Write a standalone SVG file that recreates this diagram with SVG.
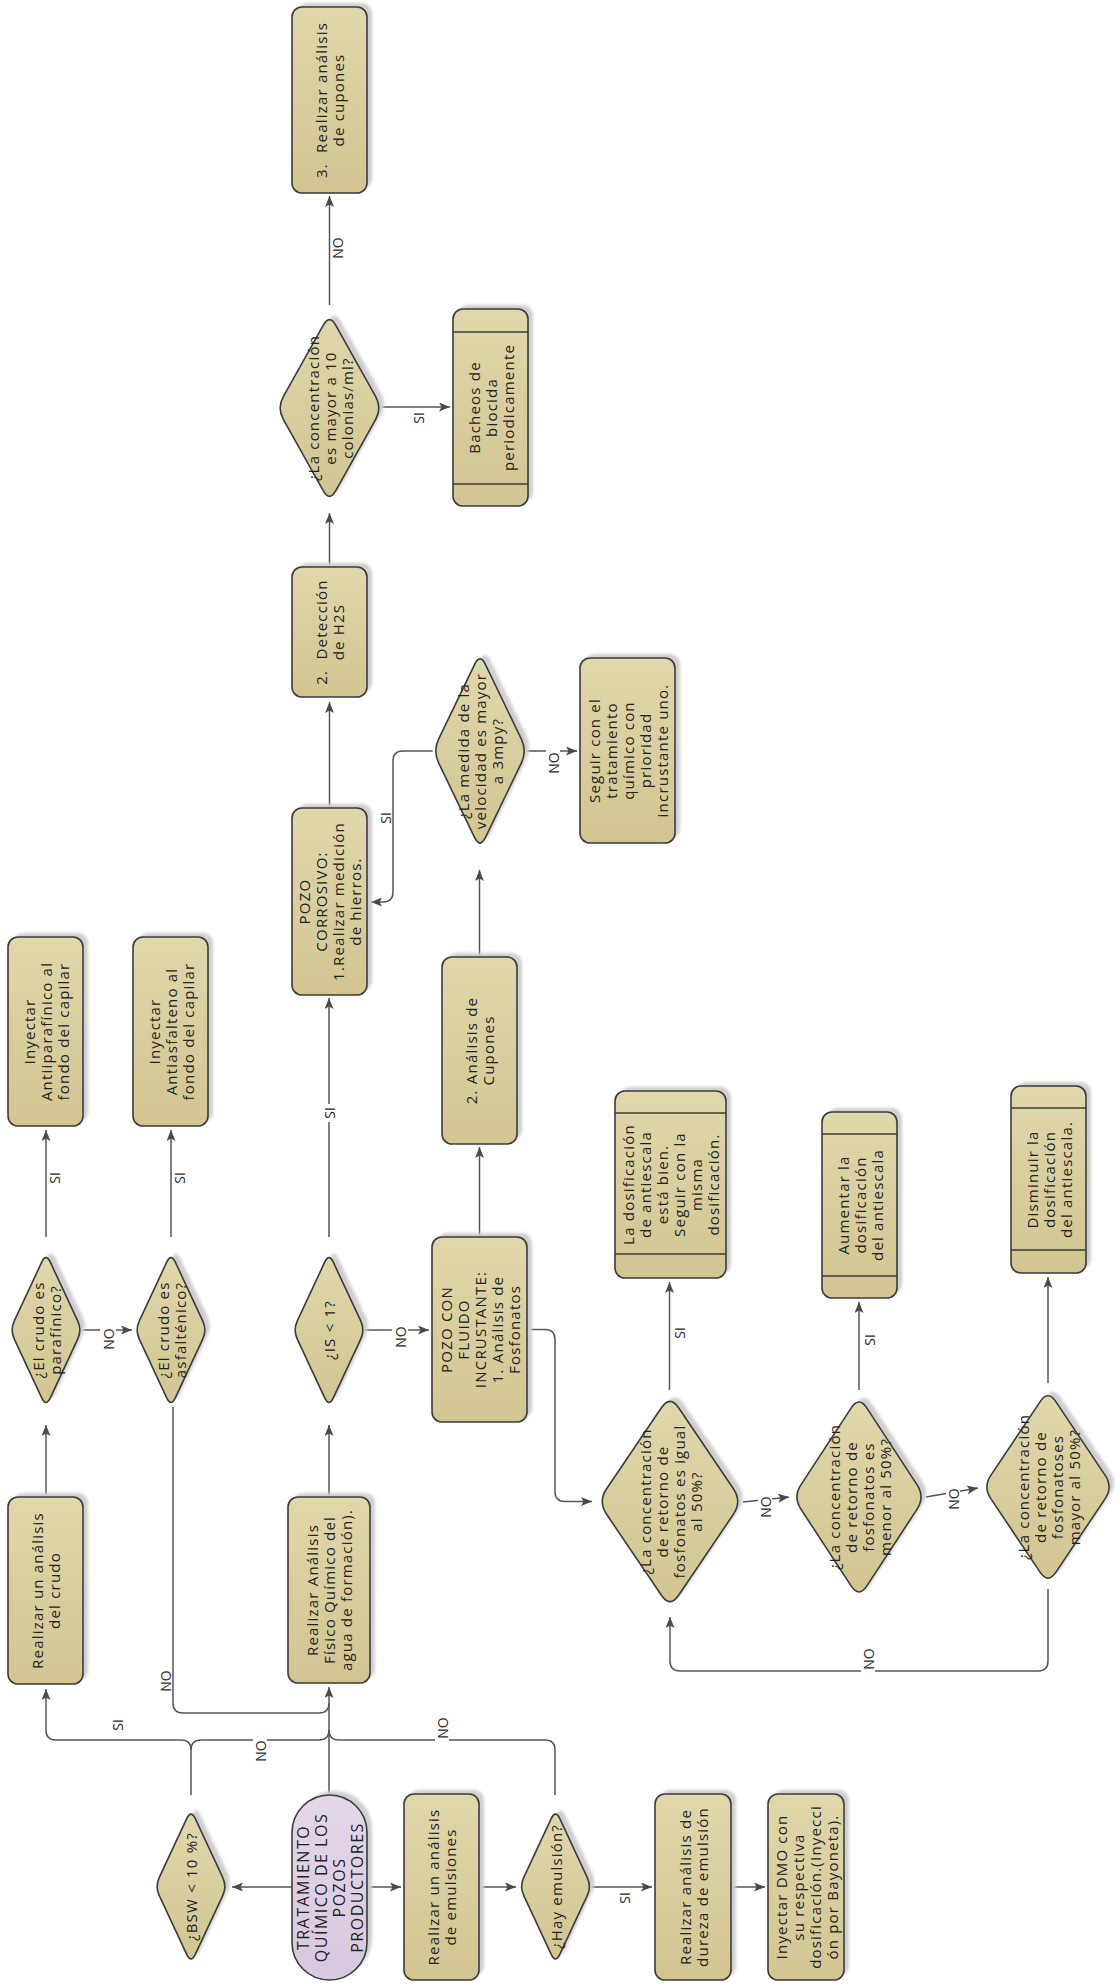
<svg xmlns="http://www.w3.org/2000/svg" xmlns:xlink="http://www.w3.org/1999/xlink" width="1115" height="1988" viewBox="0 0 1115 1988">
<defs>
<linearGradient id="g" x1="0" y1="0" x2="0" y2="1">
<stop offset="0" stop-color="#e0d7ab"/>
<stop offset="1" stop-color="#d2c592"/>
</linearGradient>
<linearGradient id="gp" x1="0" y1="0" x2="0" y2="1">
<stop offset="0" stop-color="#e4d7e9"/>
<stop offset="1" stop-color="#d8c8df"/>
</linearGradient>
<filter id="blur" x="-20%" y="-20%" width="140%" height="140%">
<feGaussianBlur stdDeviation="1.5"/>
</filter>
<marker id="ar" viewBox="0 0 11 9" refX="11" refY="4.5" markerWidth="11" markerHeight="9" markerUnits="userSpaceOnUse" orient="auto">
<path d="M0,0 L11,4.5 L0,9 L2.5,4.5 Z" fill="#4a4a4a"/>
</marker>
<path id="dS" d="M4.3,-67.8 L31.7,-9.2 Q36,0 31.7,9.2 L4.3,67.8 Q0,77 -4.3,67.8 L-31.7,9.2 Q-36,0 -31.7,-9.2 L-4.3,-67.8 Q0,-77 4.3,-67.8 Z"/>
<path id="dVel" d="M5.6,-86.2 L41.4,-11.8 Q47,0 41.4,11.8 L5.6,86.2 Q0,98 -5.6,86.2 L-41.4,11.8 Q-47,0 -41.4,-11.8 L-5.6,-86.2 Q0,-98 5.6,-86.2 Z"/>
<path id="dCol" d="M6.3,-82.7 L46.2,-11.3 Q52.5,0 46.2,11.3 L6.3,82.7 Q0,94 -6.3,82.7 L-46.2,11.3 Q-52.5,0 -46.2,-11.3 L-6.3,-82.7 Q0,-94 6.3,-82.7 Z"/>
<path id="dD1" d="M8.6,-93.7 L63.4,-12.8 Q72,0 63.4,12.8 L8.6,93.7 Q0,106.5 -8.6,93.7 L-63.4,12.8 Q-72,0 -63.4,-12.8 L-8.6,-93.7 Q0,-106.5 8.6,-93.7 Z"/>
<path id="dD2" d="M7.9,-88.9 L58.1,-12.1 Q66,0 58.1,12.1 L7.9,88.9 Q0,101 -7.9,88.9 L-58.1,12.1 Q-66,0 -58.1,-12.1 L-7.9,-88.9 Q0,-101 7.9,-88.9 Z"/>
<path id="dD3" d="M7.8,-85.4 L57.2,-11.6 Q65,0 57.2,11.6 L7.8,85.4 Q0,97 -7.8,85.4 L-57.2,11.6 Q-65,0 -57.2,-11.6 L-7.8,-85.4 Q0,-97 7.8,-85.4 Z"/>
</defs>
<style>
.nd { fill: url(#g); stroke: #3b3b3b; stroke-width: 1.6; }
.pl { fill: url(#gp); stroke: #3b3b3b; stroke-width: 1.6; }
.sh { fill: #cfcfcf; stroke: none; filter: url(#blur); }
.in { stroke: #3b3b3b; stroke-width: 1.6; }
.t { font-family: "Open Sans", "DejaVu Sans", sans-serif; font-size: 15px; fill: #222222; letter-spacing: 1.2px; text-anchor: middle; dominant-baseline: central; }
.tp { font-size: 16px; letter-spacing: 1.5px; }
.c { fill: none; stroke: #555555; stroke-width: 1.5; }
.a { marker-end: url(#ar); }
.lb { font-family: "Open Sans", "DejaVu Sans", sans-serif; font-size: 14px; fill: #2a2a2a; text-anchor: middle; dominant-baseline: central; }
.bg { fill: #ffffff; }
</style>
<rect width="1115" height="1988" fill="#ffffff"/>

<g id="connectors">
<path class="c a" d="M329,1795 L329,1687"/>
<path class="c a" d="M191,1795 L191,1750 Q191,1740 181,1740 L56,1740 Q46,1740 46,1730 L46,1689"/>
<path class="c" d="M191,1750 Q191,1740 201,1740 L319,1740 Q329,1740 329,1730"/>
<path class="c" d="M555,1795 L555,1750 Q555,1740 545,1740 L339,1740 Q329,1740 329,1730"/>
<path class="c" d="M173,1407 L173,1703 Q173,1713 183,1713 L319,1713 Q329,1713 329,1703"/>
<path class="c a" d="M292,1887 L232,1887"/>
<path class="c a" d="M367,1887 L401,1887"/>
<path class="c a" d="M479,1887 L516,1887"/>
<path class="c a" d="M591,1887 L652,1887"/>
<path class="c a" d="M731,1887 L765,1887"/>
<path class="c a" d="M46,1497 L46,1425"/>
<path class="c a" d="M329,1497 L329,1425"/>
<path class="c a" d="M46,1237 L46,1130"/>
<path class="c a" d="M171,1237 L171,1130"/>
<path class="c a" d="M82,1330 L132,1330"/>
<path class="c a" d="M329,1237 L329,998"/>
<path class="c a" d="M365,1330 L429,1330"/>
<path class="c a" d="M479.5,1237 L479.5,1147"/>
<path class="c a" d="M527,1329.5 L545,1329.5 Q555,1329.5 555,1339.5 L555,1491.5 Q555,1501.5 565,1501.5 L592,1501.5"/>
<path class="c a" d="M479.5,957 L479.5,870"/>
<path class="c a" d="M432.7,751 L403,751 Q393,751 393,761 L393,892 Q393,902 383,902 L371,902"/>
<path class="c a" d="M527,751 L577,751"/>
<path class="c a" d="M329.5,808 L329.5,702"/>
<path class="c a" d="M329.5,567 L329.5,513"/>
<path class="c a" d="M329.5,305 L329.5,196"/>
<path class="c a" d="M382,407 L450,407"/>
<path class="c a" d="M669.5,1390 L669.5,1282"/>
<path class="c a" d="M859,1390 L859,1302"/>
<path class="c a" d="M1048,1383 L1048,1277"/>
<path class="c a" d="M743,1502 L789,1497"/>
<path class="c a" d="M926,1497 L978,1488"/>
<path class="c a" d="M1048,1589 L1048,1661 Q1048,1671 1038,1671 L680,1671 Q670,1671 670,1661 L670,1617"/>

<rect class="bg" x="100" y="1325" width="16" height="28"/>
<text class="lb" transform="translate(108,1339) rotate(-90)">NO</text>
<rect class="bg" x="392" y="1324" width="16" height="28"/>
<text class="lb" transform="translate(400,1337) rotate(-90)">NO</text>
<rect class="bg" x="322" y="1104" width="14" height="18"/>
<text class="lb" transform="translate(329,1113) rotate(-90)">SI</text>
<rect class="bg" x="546" y="748" width="14" height="28"/>
<text class="lb" transform="translate(553,763) rotate(-90)">NO</text>
<rect class="bg" x="758" y="1494" width="14" height="27"/>
<text class="lb" transform="translate(765,1507) rotate(-90)">NO</text>
<rect class="bg" x="946" y="1486" width="14" height="26"/>
<text class="lb" transform="translate(953,1499) rotate(-90)">NO</text>
<rect class="bg" x="861" y="1645" width="14" height="30"/>
<text class="lb" transform="translate(868,1659) rotate(-90)">NO</text>
<rect class="bg" x="253" y="1737" width="14" height="28"/>
<text class="lb" transform="translate(260,1751) rotate(-90)">NO</text>
<rect class="bg" x="435" y="1714" width="14" height="29"/>
<text class="lb" transform="translate(442,1728) rotate(-90)">NO</text>
<text class="lb" transform="translate(117,1725) rotate(-90)">SI</text>
<text class="lb" transform="translate(165,1681) rotate(-90)">NO</text>
<text class="lb" transform="translate(54,1178) rotate(-90)">SI</text>
<text class="lb" transform="translate(179,1178) rotate(-90)">SI</text>
<text class="lb" transform="translate(385,818) rotate(-90)">SI</text>
<text class="lb" transform="translate(418,418) rotate(-90)">SI</text>
<text class="lb" transform="translate(337,248) rotate(-90)">NO</text>
<text class="lb" transform="translate(679,1333) rotate(-90)">SI</text>
<text class="lb" transform="translate(869,1340) rotate(-90)">SI</text>
<text class="lb" transform="translate(624,1898) rotate(-90)">SI</text>
</g>

<g id="n-start" transform="translate(329.5,1887.5)">
<rect class="sh" x="-32.5" y="-96.5" width="75" height="185" rx="37.5"/>
<rect class="pl" x="-37.5" y="-92.5" width="75" height="185" rx="37.5"/>
<text class="t tp" transform="rotate(-90)"><tspan x="0" y="-27">TRATAMIENTO</tspan><tspan x="0" y="-9">QUÍMICO DE LOS</tspan><tspan x="0" y="9">POZOS</tspan><tspan x="0" y="27">PRODUCTORES</tspan></text>
</g>

<g id="n-bsw" transform="translate(191,1886.5)">
<use href="#dS" class="sh" x="5" y="-4"/>
<use href="#dS" class="nd"/>
<text class="t" transform="rotate(-90)"><tspan x="0" y="0">¿BSW &lt; 10 %?</tspan></text>
</g>

<g id="n-crudo" transform="translate(45.5,1590.5)">
<rect class="sh" x="-32.5" y="-97.5" width="75" height="187" rx="10"/>
<rect class="nd" x="-37.5" y="-93.5" width="75" height="187" rx="10"/>
<text class="t" transform="rotate(-90)"><tspan x="0" y="-8.5">Realizar un análisis</tspan><tspan x="0" y="8.5">del crudo</tspan></text>
</g>

<g id="n-fisico" transform="translate(329,1590)">
<rect class="sh" x="-36" y="-97" width="82" height="186" rx="10"/>
<rect class="nd" x="-41" y="-93" width="82" height="186" rx="10"/>
<text class="t" transform="rotate(-90)"><tspan x="0" y="-17">Realizar Análisis</tspan><tspan x="0" y="0">Físico Químico del</tspan><tspan x="0" y="17">agua de formación).</tspan></text>
</g>

<g id="n-emul" transform="translate(441.5,1887)">
<rect class="sh" x="-32.5" y="-97" width="75" height="186" rx="10"/>
<rect class="nd" x="-37.5" y="-93" width="75" height="186" rx="10"/>
<text class="t" transform="rotate(-90)"><tspan x="0" y="-8.5">Realizar un análisis</tspan><tspan x="0" y="8.5">de emulsiones</tspan></text>
</g>

<g id="n-hay" transform="translate(555.5,1886.5)">
<use href="#dS" class="sh" x="5" y="-4"/>
<use href="#dS" class="nd"/>
<text class="t" transform="rotate(-90)"><tspan x="0" y="0">¿Hay emulsión?</tspan></text>
</g>

<g id="n-dureza" transform="translate(693,1887)">
<rect class="sh" x="-33" y="-97" width="76" height="186" rx="10"/>
<rect class="nd" x="-38" y="-93" width="76" height="186" rx="10"/>
<text class="t" transform="rotate(-90)"><tspan x="0" y="-8.5">Realizar análisis de</tspan><tspan x="0" y="8.5">dureza de emulsión</tspan></text>
</g>

<g id="n-dmo" transform="translate(806,1887)">
<rect class="sh" x="-33" y="-97" width="76" height="186" rx="10"/>
<rect class="nd" x="-38" y="-93" width="76" height="186" rx="10"/>
<text class="t" transform="rotate(-90)"><tspan x="0" y="-25.5">Inyectar DMO con</tspan><tspan x="0" y="-8.5">su respectiva</tspan><tspan x="0" y="8.5">dosificación.(Inyecci</tspan><tspan x="0" y="25.5">ón por Bayoneta).</tspan></text>
</g>

<g id="n-paraf" transform="translate(46,1330)">
<use href="#dS" class="sh" x="5" y="-4"/>
<use href="#dS" class="nd"/>
<text class="t" transform="rotate(-90)"><tspan x="0" y="-8.5">¿El crudo es</tspan><tspan x="0" y="8.5">parafínico?</tspan></text>
</g>

<g id="n-asf" transform="translate(171,1330)">
<use href="#dS" class="sh" x="5" y="-4"/>
<use href="#dS" class="nd"/>
<text class="t" transform="rotate(-90)"><tspan x="0" y="-8.5">¿El crudo es</tspan><tspan x="0" y="8.5">asfalténico?</tspan></text>
</g>

<g id="n-is" transform="translate(329,1330)">
<use href="#dS" class="sh" x="5" y="-4"/>
<use href="#dS" class="nd"/>
<text class="t" transform="rotate(-90)"><tspan x="0" y="0">¿IS &lt; 1?</tspan></text>
</g>

<g id="n-antipar" transform="translate(45.5,1031.5)">
<rect class="sh" x="-32.5" y="-98.5" width="75" height="189" rx="10"/>
<rect class="nd" x="-37.5" y="-94.5" width="75" height="189" rx="10"/>
<text class="t" transform="rotate(-90)"><tspan x="0" y="-17">Inyectar</tspan><tspan x="0" y="0">Antiiparafínico al</tspan><tspan x="0" y="17">fondo del capilar</tspan></text>
</g>

<g id="n-antiasf" transform="translate(170.5,1031.5)">
<rect class="sh" x="-32.5" y="-98.5" width="75" height="189" rx="10"/>
<rect class="nd" x="-37.5" y="-94.5" width="75" height="189" rx="10"/>
<text class="t" transform="rotate(-90)"><tspan x="0" y="-17">Inyectar</tspan><tspan x="0" y="0">Antiasfalteno al</tspan><tspan x="0" y="17">fondo del capilar</tspan></text>
</g>

<g id="n-incr" transform="translate(479.5,1329.5)">
<rect class="sh" x="-42.5" y="-96.5" width="95" height="185" rx="10"/>
<rect class="nd" x="-47.5" y="-92.5" width="95" height="185" rx="10"/>
<text class="t" transform="rotate(-90)"><tspan x="0" y="-34">POZO CON</tspan><tspan x="0" y="-17">FLUIDO</tspan><tspan x="0" y="0">INCRUSTANTE:</tspan><tspan x="0" y="17">1. Análisis de</tspan><tspan x="0" y="34">Fosfonatos</tspan></text>
</g>

<g id="n-cup2" transform="translate(479.5,1050.5)">
<rect class="sh" x="-32.5" y="-97.5" width="75" height="187" rx="10"/>
<rect class="nd" x="-37.5" y="-93.5" width="75" height="187" rx="10"/>
<text class="t" transform="rotate(-90)"><tspan x="0" y="-8.5">2. Análisis de</tspan><tspan x="0" y="8.5">Cupones</tspan></text>
</g>

<g id="n-vel" transform="translate(480,751)">
<use href="#dVel" class="sh" x="5" y="-4"/>
<use href="#dVel" class="nd"/>
<text class="t" transform="rotate(-90)"><tspan x="0" y="-17">¿La medida de la</tspan><tspan x="0" y="0">velocidad es mayor</tspan><tspan x="0" y="17">a 3mpy?</tspan></text>
</g>

<g id="n-seguir" transform="translate(627.5,750.5)">
<rect class="sh" x="-42.5" y="-96.5" width="95" height="185" rx="10"/>
<rect class="nd" x="-47.5" y="-92.5" width="95" height="185" rx="10"/>
<text class="t" transform="rotate(-90)"><tspan x="0" y="-34">Seguir con el</tspan><tspan x="0" y="-17">tratamiento</tspan><tspan x="0" y="0">químico con</tspan><tspan x="0" y="17">prioridad</tspan><tspan x="0" y="34">incrustante uno.</tspan></text>
</g>

<g id="n-corr" transform="translate(329.5,901.5)">
<rect class="sh" x="-32.5" y="-97.5" width="75" height="187" rx="10"/>
<rect class="nd" x="-37.5" y="-93.5" width="75" height="187" rx="10"/>
<text class="t" transform="rotate(-90)"><tspan x="0" y="-25.5">POZO</tspan><tspan x="0" y="-8.5">CORROSIVO:</tspan><tspan x="0" y="8.5">1.Realizar medición</tspan><tspan x="0" y="25.5">de hierros.</tspan></text>
</g>

<g id="n-h2s" transform="translate(329.5,632)">
<rect class="sh" x="-32.5" y="-69" width="75" height="130" rx="10"/>
<rect class="nd" x="-37.5" y="-65" width="75" height="130" rx="10"/>
<text class="t" transform="rotate(-90)"><tspan x="0" y="-8.5">2.&#160; Detección</tspan><tspan x="0" y="8.5">de H2S</tspan></text>
</g>

<g id="n-col" transform="translate(329.5,408)">
<use href="#dCol" class="sh" x="5" y="-4"/>
<use href="#dCol" class="nd"/>
<text class="t" transform="rotate(-90)"><tspan x="0" y="-17">¿La concentración</tspan><tspan x="0" y="0">es mayor a 10</tspan><tspan x="0" y="17">colonias/ml?</tspan></text>
</g>

<g id="n-bacheos" transform="translate(490.5,407.5)">
<rect class="sh" x="-32.5" y="-102.5" width="75" height="197" rx="10"/>
<rect class="nd" x="-37.5" y="-98.5" width="75" height="197" rx="10"/>
<line class="in" x1="-37.5" y1="-75.5" x2="37.5" y2="-75.5"/>
<line class="in" x1="-37.5" y1="76.5" x2="37.5" y2="76.5"/>
<text class="t" transform="rotate(-90)"><tspan x="0" y="-17">Bacheos de</tspan><tspan x="0" y="0">biocida</tspan><tspan x="0" y="17">periodicamente</tspan></text>
</g>

<g id="n-cup3" transform="translate(329.5,100)">
<rect class="sh" x="-32.5" y="-97" width="75" height="186" rx="10"/>
<rect class="nd" x="-37.5" y="-93" width="75" height="186" rx="10"/>
<text class="t" transform="rotate(-90)"><tspan x="0" y="-8.5">3.&#160; Realizar análisis</tspan><tspan x="0" y="8.5">de cupones</tspan></text>
</g>

<g id="n-d1" transform="translate(670,1501.5)">
<use href="#dD1" class="sh" x="5" y="-4"/>
<use href="#dD1" class="nd"/>
<text class="t" transform="rotate(-90)"><tspan x="0" y="-25.5">¿La concentración</tspan><tspan x="0" y="-8.5">de retorno de</tspan><tspan x="0" y="8.5">fosfonatos es igual</tspan><tspan x="0" y="25.5">al 50%?</tspan></text>
</g>

<g id="n-d2" transform="translate(859,1497)">
<use href="#dD2" class="sh" x="5" y="-4"/>
<use href="#dD2" class="nd"/>
<text class="t" transform="rotate(-90)"><tspan x="0" y="-25.5">¿La concentración</tspan><tspan x="0" y="-8.5">de retorno de</tspan><tspan x="0" y="8.5">fosfonatos es</tspan><tspan x="0" y="25.5">menor al 50%?</tspan></text>
</g>

<g id="n-d3" transform="translate(1048,1487)">
<use href="#dD3" class="sh" x="5" y="-4"/>
<use href="#dD3" class="nd"/>
<text class="t" transform="rotate(-90)"><tspan x="0" y="-25.5">¿La concentración</tspan><tspan x="0" y="-8.5">de retorno de</tspan><tspan x="0" y="8.5">fosfonatoses</tspan><tspan x="0" y="25.5">mayor al 50%?</tspan></text>
</g>

<g id="n-dosif" transform="translate(670.5,1184.5)">
<rect class="sh" x="-50.5" y="-97.5" width="111" height="187" rx="10"/>
<rect class="nd" x="-55.5" y="-93.5" width="111" height="187" rx="10"/>
<line class="in" x1="-55.5" y1="-71.5" x2="55.5" y2="-71.5"/>
<line class="in" x1="-55.5" y1="69.5" x2="55.5" y2="69.5"/>
<text class="t" transform="rotate(-90)"><tspan x="0" y="-42.5">La dosificación</tspan><tspan x="0" y="-25.5">de antiescala</tspan><tspan x="0" y="-8.5">está bien.</tspan><tspan x="0" y="8.5">Seguir con la</tspan><tspan x="0" y="25.5">misma</tspan><tspan x="0" y="42.5">dosificación.</tspan></text>
</g>

<g id="n-aum" transform="translate(859.5,1205)">
<rect class="sh" x="-32.5" y="-97" width="75" height="186" rx="10"/>
<rect class="nd" x="-37.5" y="-93" width="75" height="186" rx="10"/>
<line class="in" x1="-37.5" y1="-71" x2="37.5" y2="-71"/>
<line class="in" x1="-37.5" y1="71" x2="37.5" y2="71"/>
<text class="t" transform="rotate(-90)"><tspan x="0" y="-17">Aumentar la</tspan><tspan x="0" y="0">dosificación</tspan><tspan x="0" y="17">del antiescala</tspan></text>
</g>

<g id="n-dism" transform="translate(1048.5,1179.5)">
<rect class="sh" x="-32.5" y="-97.5" width="75" height="187" rx="10"/>
<rect class="nd" x="-37.5" y="-93.5" width="75" height="187" rx="10"/>
<line class="in" x1="-37.5" y1="-71.5" x2="37.5" y2="-71.5"/>
<line class="in" x1="-37.5" y1="70.5" x2="37.5" y2="70.5"/>
<text class="t" transform="rotate(-90)"><tspan x="0" y="-17">Disminuir la</tspan><tspan x="0" y="0">dosificación</tspan><tspan x="0" y="17">del antiescala.</tspan></text>
</g>
</svg>
